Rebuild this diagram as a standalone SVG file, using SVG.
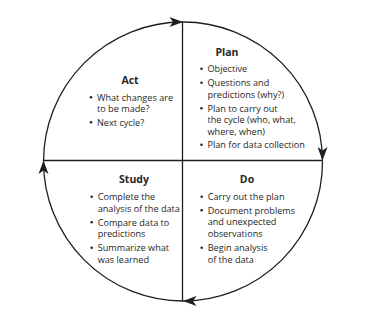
<svg xmlns="http://www.w3.org/2000/svg" width="379" height="315" viewBox="0 0 379 315">
<style>
.ln{fill:none;stroke:#1e1e1e;stroke-width:1.3}
.ah{fill:#1e1e1e}
.b{fill:#2a2a2a}
text{font-family:"Open Sans","Noto Sans",sans-serif;fill:#262626;font-size:9.15px}
.h{font-weight:bold;font-size:10.5px;text-anchor:middle}
</style>
<defs>
<path id="arr" d="M0,0 L-13.5,-5 L-10,0 L-13.5,5 Z"/>
</defs>
<rect width="379" height="315" fill="#fff"/>
<g id="connectors">
<path class="ln" d="M183,22 A139.5,139.5 0 0 1 322.5,161.5"/>
<path class="ln" d="M322.5,161.5 A139.5,139.5 0 0 1 183,301"/>
<path class="ln" d="M183,301 A139.5,139.5 0 0 1 43.5,161.5"/>
<path class="ln" d="M43.5,161.5 A139.5,139.5 0 0 1 183,22"/>
<line class="ln" x1="182.5" y1="22" x2="182.5" y2="301"/>
<line class="ln" x1="43.5" y1="160.5" x2="322.5" y2="160.5"/>
<use href="#arr" class="ah" transform="translate(183,22)"/>
<use href="#arr" class="ah" transform="translate(322.5,160.5) rotate(90)"/>
<use href="#arr" class="ah" transform="translate(183,301) rotate(180)"/>
<use href="#arr" class="ah" transform="translate(43.5,160.5) rotate(-90)"/>
</g>
<g id="plan">
<text class="h" x="227" y="56">Plan</text>
<circle class="b" cx="201.5" cy="68.8" r="1.3"/><text x="207.5" y="72">Objective</text>
<circle class="b" cx="201.5" cy="82.8" r="1.3"/><text x="207.5" y="86">Questions and</text>
<text x="207.5" y="97.5">predictions (why?)</text>
<circle class="b" cx="201.5" cy="108.3" r="1.3"/><text x="207.5" y="111.5">Plan to carry out</text>
<text x="207.5" y="123">the cycle (who, what,</text>
<text x="207.5" y="134.5">where, when)</text>
<circle class="b" cx="201.5" cy="144.8" r="1.3"/><text x="207.5" y="148">Plan for data collection</text>
</g>
<g id="act">
<text class="h" x="130" y="84">Act</text>
<circle class="b" cx="91" cy="97.3" r="1.3"/><text x="97" y="100.5">What changes are</text>
<text x="97" y="112">to be made?</text>
<circle class="b" cx="91" cy="122.3" r="1.3"/><text x="97" y="125.5">Next cycle?</text>
</g>
<g id="study">
<text class="h" x="134" y="183">Study</text>
<circle class="b" cx="91.7" cy="196.8" r="1.3"/><text x="97.7" y="200">Complete the</text>
<text x="97.7" y="211.5">analysis of the data</text>
<circle class="b" cx="91.7" cy="222.3" r="1.3"/><text x="97.7" y="225.5">Compare data to</text>
<text x="97.7" y="237">predictions</text>
<circle class="b" cx="91.7" cy="247.8" r="1.3"/><text x="97.7" y="251">Summarize what</text>
<text x="97.7" y="262.5">was learned</text>
</g>
<g id="do">
<text class="h" x="247" y="183">Do</text>
<circle class="b" cx="201.7" cy="196.8" r="1.3"/><text x="207.7" y="200">Carry out the plan</text>
<circle class="b" cx="201.7" cy="210.3" r="1.3"/><text x="207.7" y="213.5">Document problems</text>
<text x="207.7" y="225">and unexpected</text>
<text x="207.7" y="236.5">observations</text>
<circle class="b" cx="201.7" cy="247.8" r="1.3"/><text x="207.7" y="251">Begin analysis</text>
<text x="207.7" y="262.5">of the data</text>
</g>
</svg>
